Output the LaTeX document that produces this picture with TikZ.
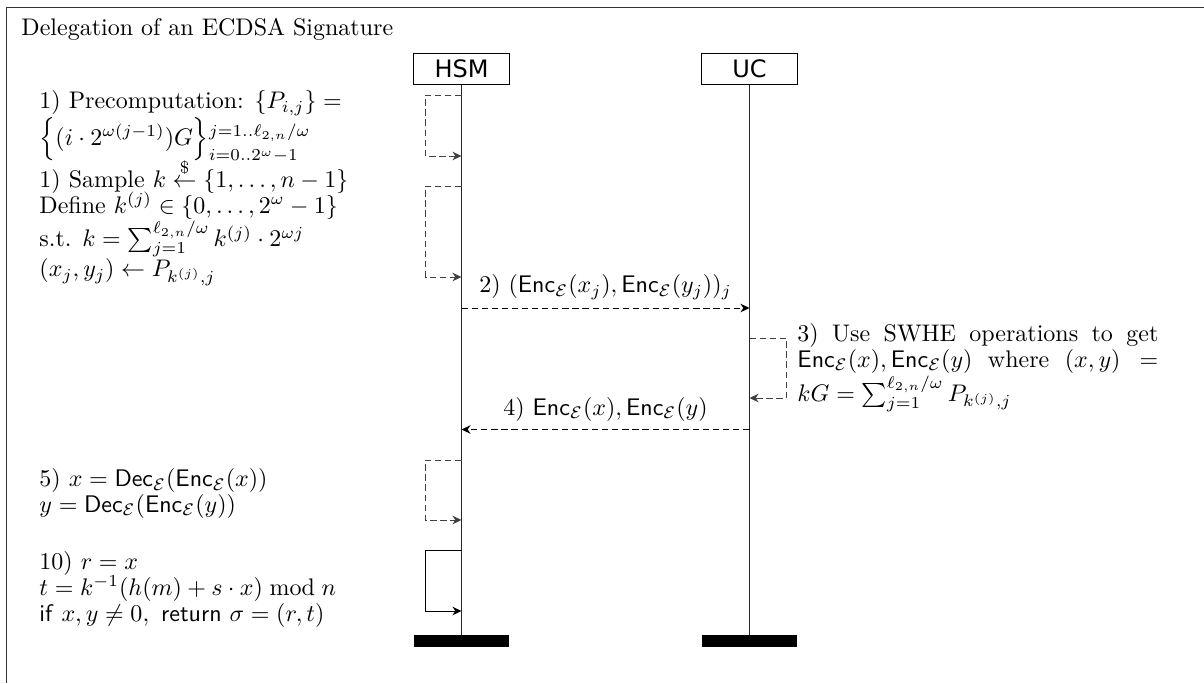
\documentclass[tikz,border=0pt]{standalone}
\usepackage{amsmath,amssymb}
\usepackage{fontspec}
\newfontfamily\actorfont{DejaVu Sans}
\usetikzlibrary{arrows.meta,calc,positioning}

\begin{document}
\begin{tikzpicture}[
  x=0.01465cm,
  y=-0.01465cm,
  actor/.style={
    draw,
    font=\actorfont,
    minimum width=40pt,
    minimum height=13.3pt,
    inner sep=0pt
  },
  endbar/.style={fill=black,minimum width=40pt,minimum height=5pt,inner sep=0pt},
  lifeline/.style={draw=black!85,line width=0.4pt},
  steptext/.style={
    align=left,
    anchor=north west,
    inner sep=0pt,
    font={\linespread{0.9}\selectfont\setlength{\lineskiplimit}{-2pt}}
  },
  call/.style={
    -{Stealth[length=3.8pt,width=3.6pt]},
    draw=black,
    line width=0.4pt
  },
  message/.style={call,dash pattern=on 2.6pt off 1.6pt},
  selfcall/.style={message,draw=black!75}
]
\useasboundingbox (0,0) rectangle (1204,683);
% Frame and title
\draw[black!80] (1204,7) -- (6,7) -- (6,683);
\node[anchor=base west,inner sep=0pt] (title) at (21,35)
  {Delegation of an ECDSA Signature};

% Actors and lifelines
\node[actor] (hsm) at (461.5,69) {HSM};
\node[actor] (uc) at (749.5,69) {UC};
\coordinate (hsm-end) at (461.5,635);
\coordinate (uc-end) at (749.5,635);
\draw[lifeline] (hsm) -- (hsm-end);
\draw[lifeline] (uc) -- (uc-end);
\node[endbar,anchor=north] (hsm-bar) at (hsm-end) {};
\node[endbar,anchor=north] (uc-bar) at (uc-end) {};

% HSM: precomputation and sampling
\node[steptext] (precomp) at (39,90)
  {1) Precomputation: $\{P_{i,j}\} =$\\
   $\Big\{(i\cdot 2^{\omega(j-1)})G\Big\}{\vrule width 0pt depth 6pt}_{i=0..2^{\omega}-1}^{j=1..\ell_{2,n}/\omega}$};
\node[steptext] (sample) at (39,158)
  {1) Sample $k \overset{\$}{\leftarrow} \{1,\dots,n-1\}$\\
   Define $k^{(j)}\in\{0,\dots,2^{\omega}-1\}$\\
   s.t. $k=\sum_{j=1}^{\ell_{2,n}/\omega} k^{(j)}\cdot 2^{\omega j}$\\[1.5pt]
   $(x_j,y_j)\leftarrow P_{k^{(j)},j}$};
\coordinate (hsm-1a) at (461.5,95);
\coordinate (hsm-1b) at (461.5,156);
\coordinate (hsm-1c) at (461.5,186);
\coordinate (hsm-1d) at (461.5,277);
\draw[selfcall] (hsm-1a) -- ++(-36,0) |- (hsm-1b);
\draw[selfcall] (hsm-1c) -- ++(-36,0) |- (hsm-1d);

% HSM -> UC: encrypted table entries
\coordinate (hsm-2) at (461.5,308);
\coordinate (uc-2) at (749.5,308);
\draw[message] (hsm-2) -- node[above]
  {2) $(\mathsf{Enc}_{\mathcal{E}}(x_j),\mathsf{Enc}_{\mathcal{E}}(y_j))_j$} (uc-2);

% UC: homomorphic point sum
\node[steptext,align=justify,text width=150.4pt] (swhe) at (797,323)
  {\lineskiplimit=-20pt
   3) Use SWHE operations to get\linebreak
   $\mathsf{Enc}_{\mathcal{E}}(x),\mathsf{Enc}_{\mathcal{E}}(y)$ where $(x,y) =$\linebreak
   $kG = \sum_{j=1}^{\ell_{2,n}/\omega} P_{k^{(j)},j}$};
\coordinate (uc-3a) at (749.5,338);
\coordinate (uc-3b) at (749.5,398);
\draw[selfcall] (uc-3a) -- ++(37,0) |- (uc-3b);

% UC -> HSM: encrypted coordinates
\coordinate (uc-4) at (749.5,429.5);
\coordinate (hsm-4) at (461.5,429.5);
\draw[message] (uc-4) -- node[above]
  {4) $\mathsf{Enc}_{\mathcal{E}}(x),\mathsf{Enc}_{\mathcal{E}}(y)$} (hsm-4);

% HSM: decryption and signature
\node[steptext] (decrypt) at (39,468)
  {5) $x = \mathsf{Dec}_{\mathcal{E}}(\mathsf{Enc}_{\mathcal{E}}(x))$\\
   $y = \mathsf{Dec}_{\mathcal{E}}(\mathsf{Enc}_{\mathcal{E}}(y))$};
\coordinate (hsm-5a) at (461.5,460);
\coordinate (hsm-5b) at (461.5,520);
\draw[selfcall] (hsm-5a) -- ++(-36,0) |- (hsm-5b);

\node[steptext] (signature) at (39,551)
  {10) $r = x$\\
   $t = k^{-1}(h(m)+s\cdot x) \bmod n$\\
   \textsf{if} $x,y\neq 0,\,$ \textsf{return} $\sigma=(r,t)$};
\coordinate (hsm-10a) at (461.5,550);
\coordinate (hsm-10b) at (461.5,611);
\draw[call] (hsm-10a) -- ++(-36,0) |- (hsm-10b);
\end{tikzpicture}
\end{document}
